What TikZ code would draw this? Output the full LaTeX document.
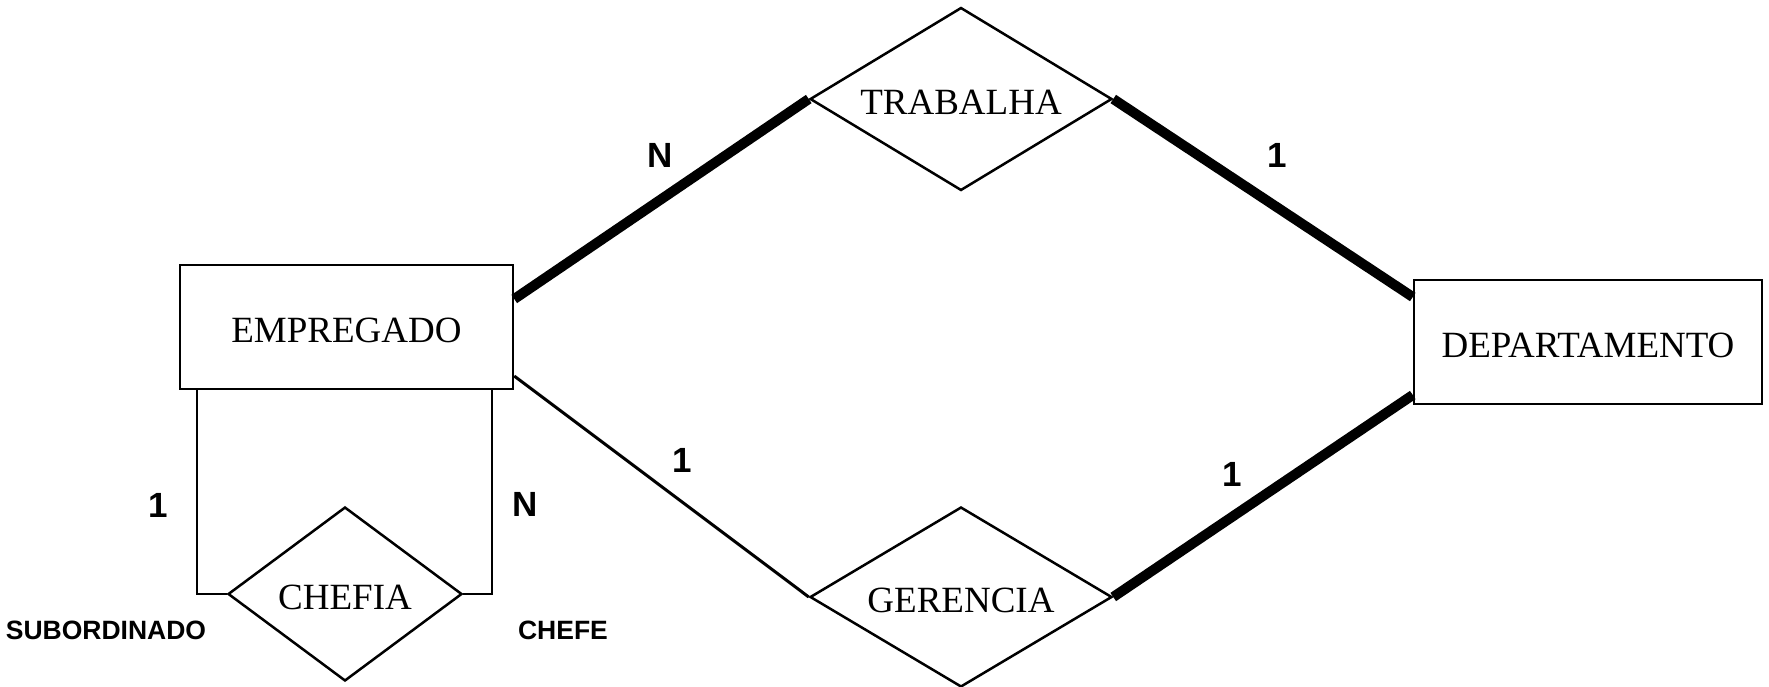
\documentclass[tikz,border=0pt]{standalone}
\usepackage{fontspec}
\setmainfont{Liberation Serif}
\newfontfamily\labfont{Liberation Sans}
\usetikzlibrary{shapes.geometric}
\begin{document}
\begin{tikzpicture}[x=1pt,y=-1pt,
  entity/.style={draw,line width=2.5pt,rectangle,inner sep=0pt,minimum height=124pt,
    text height=30.5pt,text depth=0pt,font=\fontsize{37}{40}\selectfont},
  relation/.style={draw,line width=2.5pt,diamond,inner sep=0pt,
    text height=30.5pt,text depth=0pt,font=\fontsize{37}{40}\selectfont},
  thick link/.style={line width=10pt},
  thin link/.style={line width=3pt},
  loop link/.style={line width=1.8pt},
  card/.style={font=\labfont\bfseries\fontsize{35}{38}\selectfont,inner sep=0pt},
  role/.style={font=\labfont\bfseries\fontsize{26.5}{28}\selectfont,inner sep=0pt}]
\useasboundingbox (0,0) rectangle (1769,686);

\node[entity,minimum width=333pt] (e) at (346.5,327) {EMPREGADO};
\node[entity,minimum width=348pt] (d) at (1588,342) {DEPARTAMENTO};
\node[relation,shape aspect=1.65,minimum width=302pt,minimum height=183pt] (t) at (961,99) {TRABALHA};
\node[relation,shape aspect=1.68,minimum width=302pt,minimum height=180pt] (g) at (961,597) {GERENCIA};
\node[relation,shape aspect=1.34,minimum width=234pt,minimum height=174pt] (c) at (345,594) {CHEFIA};

\draw[thick link] ([yshift=28pt]e.east) -- (t.west);
\draw[thick link] (t.east) -- ([yshift=45pt]d.west);
\draw[thick link] (g.east) -- ([yshift=-53pt]d.west);
\draw[thin link] ([yshift=-49pt]e.east) -- (g.west);
\draw[loop link] ([xshift=-149.5pt]e.south) |- (c.west);
\draw[loop link] ([xshift=145.5pt]e.south) |- (c.east);

\node[card] (l1) at (660,155) {N};
\node[card] (l2) at (1277,155) {1};
\node[card] (l3) at (682,460) {1};
\node[card] (l4) at (1232,474) {1};
\node[card] (l5) at (158,505) {1};
\node[card] (l6) at (525,504) {N};
\node[role] (r1) at (106,630) {SUBORDINADO};
\node[role] (r2) at (563,630) {CHEFE};
\end{tikzpicture}
\end{document}
